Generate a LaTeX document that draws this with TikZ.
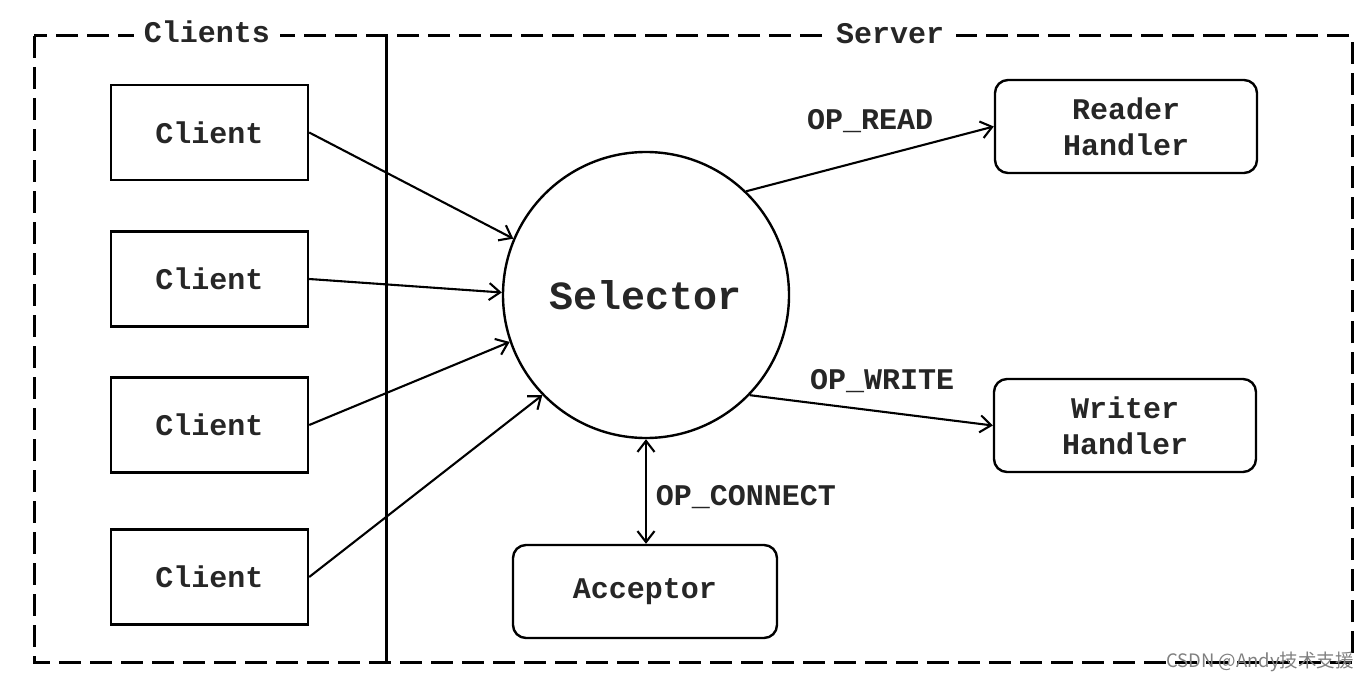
\documentclass[tikz,border=0pt]{standalone}
\usepackage{fontspec}
\setmonofont{Liberation Mono}
\newfontfamily\cjkfont{Noto Sans CJK SC}
\usetikzlibrary{arrows.meta}
\begin{document}
\begin{tikzpicture}[x=1pt,y=-1pt,
  lbl/.style={font=\ttfamily\bfseries\fontsize{30}{34}\selectfont, text=black!85},
  clientbox/.style={draw, line width=2.4pt, minimum width=197pt, minimum height=95pt, lbl},
  handler/.style={draw, line width=2.4pt, rounded corners=13pt, minimum width=262pt, minimum height=93pt, lbl, align=center},
  conn/.style={line width=2.1pt, -{Straight Barb[length=11pt,width=17pt,line width=2.1pt]}},
  frame/.style={line width=3pt, dash pattern=on 22pt off 9pt},
]
\useasboundingbox (0,0) rectangle (1372,682);
\draw[frame] (34,36) rectangle (1352,662);
\coordinate (vtop) at (386,36);
\coordinate (vbot) at (386,662);
\draw[line width=3pt] (vtop) -- (vbot);
\node[lbl, fill=white, inner xsep=10pt, inner ysep=2pt] (clients) at (207,32) {Clients};
\node[lbl, fill=white, inner xsep=12pt, inner ysep=2pt] (server) at (890,34) {Server};

\node[clientbox] (c1) at (209.5,132.5) {Client};
\node[clientbox] (c2) at (209.5,279) {Client};
\node[clientbox] (c3) at (209.5,425) {Client};
\node[clientbox] (c4) at (209.5,577) {Client};

\node[circle, draw, line width=2.4pt, minimum size=286pt, inner sep=0pt, font=\ttfamily\bfseries\fontsize{40}{44}\selectfont, text=black!85] (sel) at (646,295) {Selector};

\node[handler] (reader) at (1126,126.5) {Reader\\[2pt]Handler};
\node[handler] (writer) at (1125,425.5) {Writer\\[2pt]Handler};
\node[handler, minimum width=264pt] (acc) at (645,591.5) {Acceptor};

\draw[conn] (c1.east) -- (sel.157);
\draw[conn] (c2.east) -- (sel.179);
\draw[conn] (c3.east) -- (sel.199);
\draw[conn] (c4.east) -- (sel.224);

\draw[conn] (sel.46) -- (reader.west);
\draw[conn] (sel.-44) -- (writer.west);
\draw[conn, {Straight Barb[length=11pt,width=17pt,line width=2.1pt]}-{Straight Barb[length=11pt,width=17pt,line width=2.1pt]}] (sel.south) -- (sel.south |- acc.north);

\node[lbl] (lread) at (870,121) {OP\_READ};
\node[lbl] (lwrite) at (882,381) {OP\_WRITE};
\node[lbl] (lconn) at (746,497) {OP\_CONNECT};

\node[font=\cjkfont\fontsize{18.5}{20}\selectfont, text=black!50, anchor=east, inner sep=0pt] (wm) at (1354,662) {CSDN @Andy技术支援};
\end{tikzpicture}
\end{document}
